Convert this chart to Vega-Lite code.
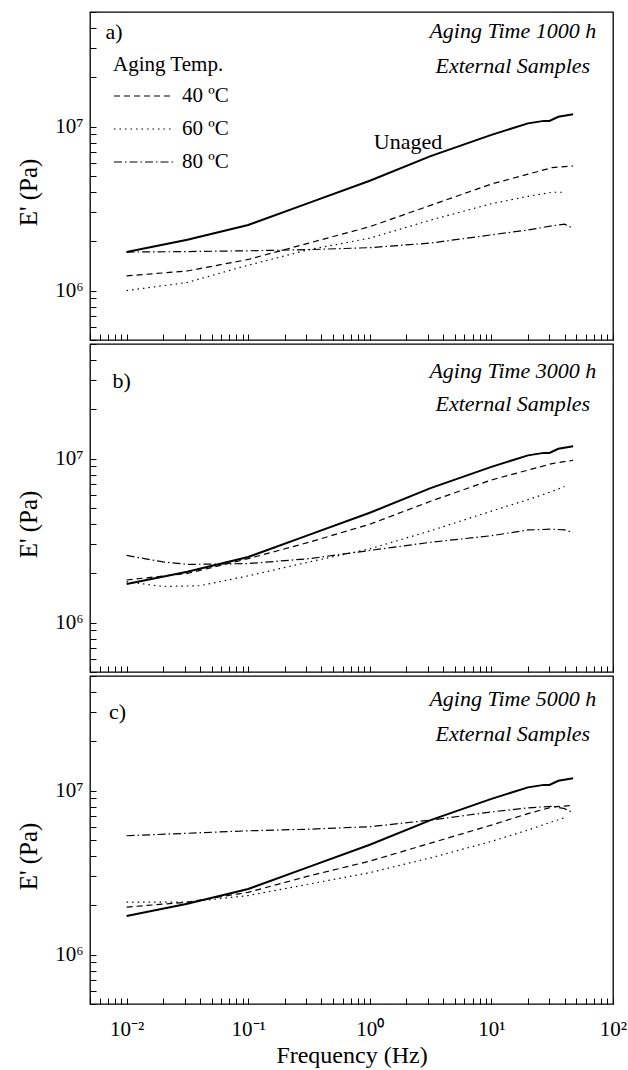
{
  "$schema": "https://vega.github.io/schema/vega-lite/v6.json",
  "padding": {"left": 15, "top": 10, "right": 14, "bottom": 2},
  "spacing": 0,
  "config": {
    "font": "Liberation Serif",
    "view": {"stroke": "black", "strokeWidth": 1.3},
    "axis": {"domain": false, "grid": false, "tickColor": "black", "tickWidth": 1, "tickSize": 6, "offset": -6, "labelColor": "black", "titleColor": "black", "labelFont": "Liberation Serif", "titleFont": "Liberation Serif", "labelFontSize": 21, "titleFontSize": 25, "titleFontWeight": "normal", "labelFlush": false},
    "text": {"font": "Liberation Serif", "color": "black"}
  },
  "datasets": {
    "unaged": [
      {"f": 0.01, "E": 1718000}, {"f": 0.0316, "E": 2042000}, {"f": 0.1, "E": 2512000}, {"f": 0.316, "E": 3428000},
      {"f": 1, "E": 4677000}, {"f": 3.16, "E": 6607000}, {"f": 10, "E": 8913000}, {"f": 20, "E": 10470000},
      {"f": 27, "E": 10840000}, {"f": 30, "E": 10840000}, {"f": 35.5, "E": 11480000}, {"f": 47, "E": 11890000}
    ],
    "a": [
      {"T": "40 ºC", "f": 0.01, "E": 1230000}, {"T": "40 ºC", "f": 0.0316, "E": 1318000}, {"T": "40 ºC", "f": 0.1, "E": 1549000}, {"T": "40 ºC", "f": 0.316, "E": 1950000}, {"T": "40 ºC", "f": 1, "E": 2455000}, {"T": "40 ºC", "f": 3.16, "E": 3311000}, {"T": "40 ºC", "f": 10, "E": 4467000}, {"T": "40 ºC", "f": 20, "E": 5129000}, {"T": "40 ºC", "f": 31.6, "E": 5623000}, {"T": "40 ºC", "f": 47, "E": 5754000},
      {"T": "60 ºC", "f": 0.01, "E": 1000000}, {"T": "60 ºC", "f": 0.0316, "E": 1122000}, {"T": "60 ºC", "f": 0.1, "E": 1429000}, {"T": "60 ºC", "f": 0.316, "E": 1778000}, {"T": "60 ºC", "f": 1, "E": 2089000}, {"T": "60 ºC", "f": 3.16, "E": 2692000}, {"T": "60 ºC", "f": 10, "E": 3388000}, {"T": "60 ºC", "f": 20, "E": 3758000}, {"T": "60 ºC", "f": 31.6, "E": 3981000}, {"T": "60 ºC", "f": 40, "E": 3981000},
      {"T": "80 ºC", "f": 0.01, "E": 1718000}, {"T": "80 ºC", "f": 0.0316, "E": 1730000}, {"T": "80 ºC", "f": 0.1, "E": 1750000}, {"T": "80 ºC", "f": 0.316, "E": 1778000}, {"T": "80 ºC", "f": 1, "E": 1828000}, {"T": "80 ºC", "f": 3.16, "E": 1950000}, {"T": "80 ºC", "f": 10, "E": 2188000}, {"T": "80 ºC", "f": 20, "E": 2344000}, {"T": "80 ºC", "f": 31.6, "E": 2483000}, {"T": "80 ºC", "f": 40, "E": 2541000}, {"T": "80 ºC", "f": 47, "E": 2399000}
    ],
    "b": [
      {"T": "40 ºC", "f": 0.01, "E": 1820000}, {"T": "40 ºC", "f": 0.0316, "E": 1995000}, {"T": "40 ºC", "f": 0.1, "E": 2455000}, {"T": "40 ºC", "f": 0.316, "E": 3090000}, {"T": "40 ºC", "f": 1, "E": 3981000}, {"T": "40 ºC", "f": 3.16, "E": 5495000}, {"T": "40 ºC", "f": 10, "E": 7413000}, {"T": "40 ºC", "f": 20, "E": 8511000}, {"T": "40 ºC", "f": 31.6, "E": 9333000}, {"T": "40 ºC", "f": 47, "E": 9772000},
      {"T": "60 ºC", "f": 0.01, "E": 1778000}, {"T": "60 ºC", "f": 0.02, "E": 1660000}, {"T": "60 ºC", "f": 0.04, "E": 1679000}, {"T": "60 ºC", "f": 0.1, "E": 1928000}, {"T": "60 ºC", "f": 0.316, "E": 2344000}, {"T": "60 ºC", "f": 1, "E": 2818000}, {"T": "60 ºC", "f": 3.16, "E": 3631000}, {"T": "60 ºC", "f": 10, "E": 4786000}, {"T": "60 ºC", "f": 20, "E": 5623000}, {"T": "60 ºC", "f": 31.6, "E": 6310000}, {"T": "60 ºC", "f": 40, "E": 6761000},
      {"T": "80 ºC", "f": 0.01, "E": 2570000}, {"T": "80 ºC", "f": 0.02, "E": 2344000}, {"T": "80 ºC", "f": 0.0316, "E": 2265000}, {"T": "80 ºC", "f": 0.1, "E": 2291000}, {"T": "80 ºC", "f": 0.316, "E": 2455000}, {"T": "80 ºC", "f": 1, "E": 2754000}, {"T": "80 ºC", "f": 3.16, "E": 3090000}, {"T": "80 ºC", "f": 10, "E": 3388000}, {"T": "80 ºC", "f": 20, "E": 3673000}, {"T": "80 ºC", "f": 31.6, "E": 3715000}, {"T": "80 ºC", "f": 40, "E": 3673000}, {"T": "80 ºC", "f": 47, "E": 3548000}
    ],
    "c": [
      {"T": "40 ºC", "f": 0.01, "E": 1950000}, {"T": "40 ºC", "f": 0.0316, "E": 2089000}, {"T": "40 ºC", "f": 0.1, "E": 2399000}, {"T": "40 ºC", "f": 0.316, "E": 3020000}, {"T": "40 ºC", "f": 1, "E": 3715000}, {"T": "40 ºC", "f": 3.16, "E": 4786000}, {"T": "40 ºC", "f": 10, "E": 6166000}, {"T": "40 ºC", "f": 20, "E": 7244000}, {"T": "40 ºC", "f": 31.6, "E": 7943000}, {"T": "40 ºC", "f": 47, "E": 8128000},
      {"T": "60 ºC", "f": 0.01, "E": 2089000}, {"T": "60 ºC", "f": 0.0316, "E": 2089000}, {"T": "60 ºC", "f": 0.1, "E": 2291000}, {"T": "60 ºC", "f": 0.316, "E": 2692000}, {"T": "60 ºC", "f": 1, "E": 3162000}, {"T": "60 ºC", "f": 3.16, "E": 3890000}, {"T": "60 ºC", "f": 10, "E": 4898000}, {"T": "60 ºC", "f": 20, "E": 5754000}, {"T": "60 ºC", "f": 31.6, "E": 6457000}, {"T": "60 ºC", "f": 40, "E": 6839000},
      {"T": "80 ºC", "f": 0.01, "E": 5309000}, {"T": "80 ºC", "f": 0.0316, "E": 5495000}, {"T": "80 ºC", "f": 0.1, "E": 5689000}, {"T": "80 ºC", "f": 0.316, "E": 5821000}, {"T": "80 ºC", "f": 1, "E": 6026000}, {"T": "80 ºC", "f": 3.16, "E": 6607000}, {"T": "80 ºC", "f": 10, "E": 7413000}, {"T": "80 ºC", "f": 20, "E": 7852000}, {"T": "80 ºC", "f": 31.6, "E": 8035000}, {"T": "80 ºC", "f": 40, "E": 7762000}, {"T": "80 ºC", "f": 47, "E": 7328000}
    ],
    "notes_a": [{"label": "a)", "f": 0.00671, "E": 37800000}, {"label": "Unaged", "f": 1.08, "E": 8100000}],
    "titles_a": [{"label": "Aging Time 1000 h", "f": 15, "E": 38300000}, {"label": "External Samples", "f": 15, "E": 23400000}],
    "notes_b": [{"label": "b)", "f": 0.00767, "E": 29800000}],
    "titles_b": [{"label": "Aging Time 3000 h", "f": 15, "E": 34200000}, {"label": "External Samples", "f": 15, "E": 21500000}],
    "notes_c": [{"label": "c)", "f": 0.00718, "E": 30000000}],
    "titles_c": [{"label": "Aging Time 5000 h", "f": 15, "E": 36100000}, {"label": "External Samples", "f": 15, "E": 22100000}]
  },
  "resolve": {"scale": {"strokeDash": "independent"}, "legend": {"strokeDash": "independent"}},
  "vconcat": [
    {
      "width": 523, "height": 328,
      "encoding": {
        "x": {"field": "f", "type": "quantitative", "scale": {"type": "log", "domain": [0.005, 100]},
          "axis": {"title": null, "labels": false, "values": [0.005,0.006,0.007,0.008,0.009,0.01,0.02,0.03,0.04,0.05,0.06,0.07,0.08,0.09,0.1,0.2,0.3,0.4,0.5,0.6,0.7,0.8,0.9,1,2,3,4,5,6,7,8,9,10,20,30,40,50,60,70,80,90,100]}},
        "y": {"field": "E", "type": "quantitative", "scale": {"type": "log", "domain": [500000, 50000000]},
          "axis": {"title": "E' (Pa)", "titleX": -68, "titleY": 180, "titleBaseline": "middle", "labelPadding": 7,
            "values": [500000,600000,700000,800000,900000,1000000,2000000,3000000,4000000,5000000,6000000,7000000,8000000,9000000,10000000,20000000,30000000,40000000,50000000],
            "labelExpr": "datum.value == 1000000 ? '10⁶' : datum.value == 10000000 ? '10⁷' : ''"}}
      },
      "layer": [
        {"data": {"values": [{}]}, "mark": {"type": "rule", "color": "#666", "strokeDash": [2, 2], "strokeWidth": 0.8}, "encoding": {"x": {"datum": 0.1}, "y": null}},
        {"data": {"name": "unaged"}, "mark": {"type": "line", "color": "black", "strokeWidth": 2}},
        {"data": {"name": "a"}, "mark": {"type": "line", "color": "black", "strokeWidth": 1.2},
          "encoding": {"strokeDash": {"field": "T", "type": "nominal", "scale": {"domain": ["40 ºC", "60 ºC", "80 ºC"], "range": [[6, 4], [1.5, 4], [8, 3, 1.5, 3]]},
            "legend": {"orient": "none", "legendX": 23, "legendY": 42, "title": "Aging Temp.", "titleFont": "Liberation Serif", "titleFontSize": 21, "titleFontWeight": "normal", "titleColor": "black", "titlePadding": 10, "labelFont": "Liberation Serif", "labelFontSize": 21, "labelColor": "black", "labelOffset": 47, "symbolType": "M-1,0H5", "symbolSize": 400, "symbolStrokeWidth": 1.2, "symbolStrokeColor": "black", "rowPadding": 12}}}},
        {"data": {"name": "notes_a"}, "mark": {"type": "text", "fontSize": 22, "align": "left", "baseline": "middle"}, "encoding": {"text": {"field": "label"}}},
        {"data": {"name": "titles_a"}, "mark": {"type": "text", "fontSize": 22, "fontStyle": "italic", "align": "center", "baseline": "middle"}, "encoding": {"text": {"field": "label"}}}
      ]
    },
    {
      "width": 523, "height": 328,
      "encoding": {
        "x": {"field": "f", "type": "quantitative", "scale": {"type": "log", "domain": [0.005, 100]},
          "axis": {"title": null, "labels": false, "values": [0.005,0.006,0.007,0.008,0.009,0.01,0.02,0.03,0.04,0.05,0.06,0.07,0.08,0.09,0.1,0.2,0.3,0.4,0.5,0.6,0.7,0.8,0.9,1,2,3,4,5,6,7,8,9,10,20,30,40,50,60,70,80,90,100]}},
        "y": {"field": "E", "type": "quantitative", "scale": {"type": "log", "domain": [500000, 50000000]},
          "axis": {"title": "E' (Pa)", "titleX": -68, "titleY": 180, "titleBaseline": "middle", "labelPadding": 7,
            "values": [500000,600000,700000,800000,900000,1000000,2000000,3000000,4000000,5000000,6000000,7000000,8000000,9000000,10000000,20000000,30000000,40000000,50000000],
            "labelExpr": "datum.value == 1000000 ? '10⁶' : datum.value == 10000000 ? '10⁷' : ''"}}
      },
      "layer": [
        {"data": {"values": [{}]}, "mark": {"type": "rule", "color": "#666", "strokeDash": [2, 2], "strokeWidth": 0.8}, "encoding": {"x": {"datum": 0.1}, "y": null}},
        {"data": {"name": "unaged"}, "mark": {"type": "line", "color": "black", "strokeWidth": 2}},
        {"data": {"name": "b"}, "mark": {"type": "line", "color": "black", "strokeWidth": 1.2},
          "encoding": {"strokeDash": {"field": "T", "type": "nominal", "scale": {"domain": ["40 ºC", "60 ºC", "80 ºC"], "range": [[6, 4], [1.5, 4], [8, 3, 1.5, 3]]}, "legend": null}}},
        {"data": {"name": "notes_b"}, "mark": {"type": "text", "fontSize": 22, "align": "left", "baseline": "middle"}, "encoding": {"text": {"field": "label"}}},
        {"data": {"name": "titles_b"}, "mark": {"type": "text", "fontSize": 22, "fontStyle": "italic", "align": "center", "baseline": "middle"}, "encoding": {"text": {"field": "label"}}}
      ]
    },
    {
      "width": 523, "height": 328,
      "encoding": {
        "x": {"field": "f", "type": "quantitative", "scale": {"type": "log", "domain": [0.005, 100]},
          "axis": {"title": "Frequency (Hz)", "titleFontSize": 24, "titleY": 57, "titleBaseline": "middle", "labelPadding": 14,
            "values": [0.005,0.006,0.007,0.008,0.009,0.01,0.02,0.03,0.04,0.05,0.06,0.07,0.08,0.09,0.1,0.2,0.3,0.4,0.5,0.6,0.7,0.8,0.9,1,2,3,4,5,6,7,8,9,10,20,30,40,50,60,70,80,90,100],
            "labelExpr": "abs(log(datum.value)/LN10 - round(log(datum.value)/LN10)) < 0.001 ? (round(log(datum.value)/LN10) == -2 ? '10⁻²' : round(log(datum.value)/LN10) == -1 ? '10⁻¹' : round(log(datum.value)/LN10) == 0 ? '10⁰' : round(log(datum.value)/LN10) == 1 ? '10¹' : '10²') : ''"}},
        "y": {"field": "E", "type": "quantitative", "scale": {"type": "log", "domain": [500000, 50000000]},
          "axis": {"title": "E' (Pa)", "titleX": -68, "titleY": 180, "titleBaseline": "middle", "labelPadding": 7,
            "values": [500000,600000,700000,800000,900000,1000000,2000000,3000000,4000000,5000000,6000000,7000000,8000000,9000000,10000000,20000000,30000000,40000000,50000000],
            "labelExpr": "datum.value == 1000000 ? '10⁶' : datum.value == 10000000 ? '10⁷' : ''"}}
      },
      "layer": [
        {"data": {"values": [{}]}, "mark": {"type": "rule", "color": "#666", "strokeDash": [2, 2], "strokeWidth": 0.8}, "encoding": {"x": {"datum": 0.1}, "y": null}},
        {"data": {"name": "unaged"}, "mark": {"type": "line", "color": "black", "strokeWidth": 2}},
        {"data": {"name": "c"}, "mark": {"type": "line", "color": "black", "strokeWidth": 1.2},
          "encoding": {"strokeDash": {"field": "T", "type": "nominal", "scale": {"domain": ["40 ºC", "60 ºC", "80 ºC"], "range": [[6, 4], [1.5, 4], [8, 3, 1.5, 3]]}, "legend": null}}},
        {"data": {"name": "notes_c"}, "mark": {"type": "text", "fontSize": 22, "align": "left", "baseline": "middle"}, "encoding": {"text": {"field": "label"}}},
        {"data": {"name": "titles_c"}, "mark": {"type": "text", "fontSize": 22, "fontStyle": "italic", "align": "center", "baseline": "middle"}, "encoding": {"text": {"field": "label"}}}
      ]
    }
  ]
}
